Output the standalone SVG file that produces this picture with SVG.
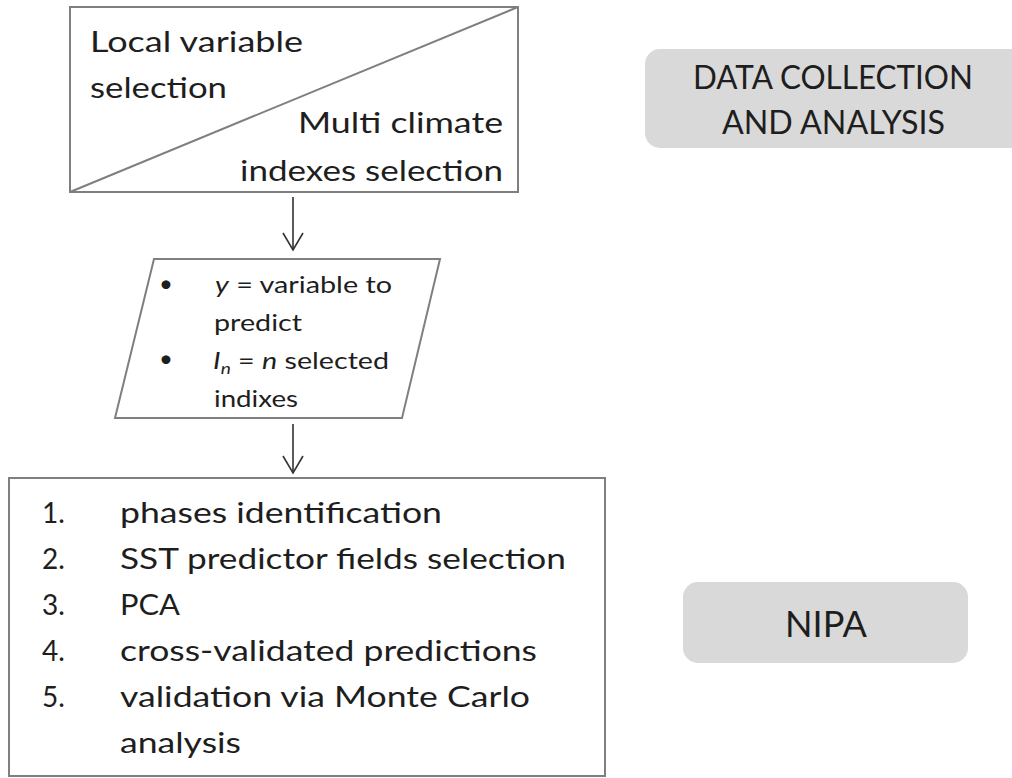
<svg xmlns="http://www.w3.org/2000/svg" width="1012" height="778" viewBox="0 0 1012 778">
<defs>
<style>
.box{fill:#ffffff;stroke:#7f7f7f;stroke-width:2}
.label{fill:#d9d9d9;stroke:none}
.t{font-family:Lato,"Liberation Sans",sans-serif;fill:#1e1e1e}
.t28{font-size:28px}
.t24{font-size:24px}
.tr{font-size:32px}
.conn{fill:none;stroke:#333333;stroke-width:1.6}
</style>
<marker id="arr" viewBox="0 0 20 22" refX="18" refY="11" markerWidth="20" markerHeight="22" markerUnits="userSpaceOnUse" orient="auto" overflow="visible">
<path d="M1,1 L18,11 L1,21" fill="none" stroke="#333333" stroke-width="1.6"/>
</marker>
</defs>
<g id="connectors">
<line class="conn" x1="293" y1="197" x2="293" y2="250" marker-end="url(#arr)"/>
<line class="conn" x1="293" y1="424" x2="293" y2="473" marker-end="url(#arr)"/>
</g>
<g id="node-selection">
<rect class="box" x="70" y="7" width="448" height="185"/>
<line x1="70" y1="192" x2="518" y2="7" stroke="#7f7f7f" stroke-width="2"/>
<text class="t t28" x="90" y="52" textLength="213" lengthAdjust="spacingAndGlyphs">Local variable</text>
<text class="t t28" x="90" y="98" textLength="137" lengthAdjust="spacingAndGlyphs">selection</text>
<text class="t t28" x="298" y="133" textLength="205" lengthAdjust="spacingAndGlyphs">Multi climate</text>
<text class="t t28" x="240" y="181" textLength="263" lengthAdjust="spacingAndGlyphs">indexes selection</text>
</g>
<g id="node-inputs">
<polygon class="box" points="154,259 440,259 402,418 115,418"/>
<text class="t t24" x="159" y="292">•</text>
<text class="t t24" x="215" y="293" textLength="177" lengthAdjust="spacingAndGlyphs"><tspan font-style="italic">y</tspan> = variable to</text>
<text class="t t24" x="214" y="331" textLength="88" lengthAdjust="spacingAndGlyphs">predict</text>
<text class="t t24" x="159" y="367">•</text>
<text class="t t24" x="213" y="369" textLength="176" lengthAdjust="spacingAndGlyphs"><tspan font-style="italic">I</tspan><tspan font-style="italic" font-size="16" dy="5">n</tspan><tspan dy="-5"> = </tspan><tspan font-style="italic">n</tspan> selected</text>
<text class="t t24" x="214" y="407" textLength="84" lengthAdjust="spacingAndGlyphs">indixes</text>
</g>
<g id="node-nipa-steps">
<rect class="box" x="9" y="478" width="596" height="298"/>
<text class="t t28" x="42" y="523">1.</text>
<text class="t t28" x="42" y="569">2.</text>
<text class="t t28" x="42" y="615">3.</text>
<text class="t t28" x="42" y="661">4.</text>
<text class="t t28" x="42" y="707">5.</text>
<text class="t t28" x="120" y="523" textLength="322" lengthAdjust="spacingAndGlyphs">phases identification</text>
<text class="t t28" x="120" y="569" textLength="446" lengthAdjust="spacingAndGlyphs">SST predictor fields selection</text>
<text class="t t28" x="120" y="615" textLength="60" lengthAdjust="spacingAndGlyphs">PCA</text>
<text class="t t28" x="120" y="661" textLength="417" lengthAdjust="spacingAndGlyphs">cross-validated predictions</text>
<text class="t t28" x="120" y="707" textLength="410" lengthAdjust="spacingAndGlyphs">validation via Monte Carlo</text>
<text class="t t28" x="120" y="753" textLength="121" lengthAdjust="spacingAndGlyphs">analysis</text>
</g>
<g id="label-data">
<rect class="label" x="645" y="49" width="400" height="99" rx="15" ry="15"/>
<text class="t tr" x="693" y="89" textLength="280" lengthAdjust="spacingAndGlyphs">DATA COLLECTION</text>
<text class="t tr" x="722" y="134" textLength="223" lengthAdjust="spacingAndGlyphs">AND ANALYSIS</text>
</g>
<g id="label-nipa">
<rect class="label" x="683" y="582" width="285" height="81" rx="15" ry="15"/>
<text class="t" font-size="36" x="785" y="637" textLength="82" lengthAdjust="spacingAndGlyphs">NIPA</text>
</g>
</svg>
